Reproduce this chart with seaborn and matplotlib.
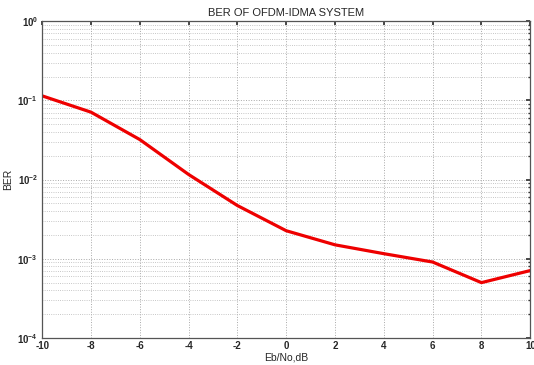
import matplotlib
matplotlib.use("Agg")
import matplotlib.pyplot as plt
import seaborn as sns
import pandas as pd
import numpy as np
from matplotlib.ticker import LogLocator, FixedLocator

ebno = [-10, -8, -6, -4, -2, 0, 2, 4, 6, 8, 10]
ber = [0.114, 0.071, 0.032, 0.0116, 0.0047, 0.00226, 0.0015, 0.00116, 0.00091, 0.0005, 0.00071]
xticks = [-10, -8, -6, -4, -2, 0, 2, 4, 6, 8, 10]

sns.set_theme(style="white")
plt.rcParams['font.family'] = ['Liberation Sans', 'DejaVu Sans']
plt.rcParams['axes.unicode_minus'] = False

df = pd.DataFrame({"Eb/No,dB": ebno, "BER": ber})

fig = plt.figure(figsize=(5.34, 3.65), dpi=100)
ax = fig.add_axes([0.079, 0.074, 0.914, 0.868])
sns.lineplot(data=df, x="Eb/No,dB", y="BER", color="#ee0000", linewidth=2.3, ax=ax)
ax.set_yscale("log")
ax.set_xlim(-10, 10)
ax.set_ylim(1e-4, 1)
ax.xaxis.set_major_locator(FixedLocator(xticks))
ax.set_xticklabels([str(v) for v in xticks])
ax.yaxis.set_major_locator(LogLocator(base=10, numticks=10))
ax.yaxis.set_minor_locator(LogLocator(base=10, subs=np.arange(2, 10), numticks=20))
ax.grid(True, which="major", axis="both", linestyle=":", color="#a8a8a8", linewidth=0.7)
ax.grid(True, which="minor", axis="y", linestyle=":", color="#b4b4b4", linewidth=0.6)
ax.tick_params(axis="both", which="both", direction="in", top=True, right=True,
               labelsize=7, length=3, color="#333333")
ax.tick_params(axis="y", which="minor", length=1.5)
ax.tick_params(axis="x", pad=2)
ax.tick_params(axis="y", pad=3)
for lab in ax.get_xticklabels() + ax.get_yticklabels():
    lab.set_fontweight("bold")
for s in ax.spines.values():
    s.set_color("#555555")
    s.set_linewidth(0.9)
ax.set_xlabel("Eb/No,dB", fontsize=7.5, labelpad=1)
ax.set_ylabel("BER", fontsize=7.5, labelpad=3)
ax.set_title("BER OF OFDM-IDMA SYSTEM", fontsize=8, pad=4)
fig.savefig("out.png", dpi=100, facecolor="white")
